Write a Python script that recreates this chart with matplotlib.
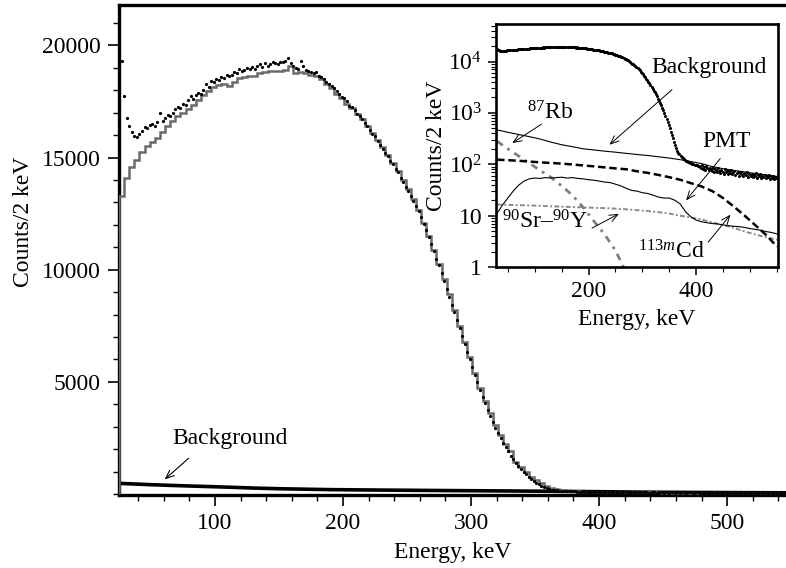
import numpy as np
import matplotlib
matplotlib.use("Agg")
import matplotlib.pyplot as plt
from matplotlib.ticker import MultipleLocator, FixedLocator, FixedFormatter, LogLocator, NullFormatter

plt.rcParams['font.family'] = ['Liberation Serif', 'DejaVu Serif']
plt.rcParams['mathtext.fontset'] = 'custom'
plt.rcParams['mathtext.rm'] = 'Liberation Serif'
plt.rcParams['mathtext.it'] = 'Liberation Serif:italic'
plt.rcParams['mathtext.default'] = 'regular'

FS = 17

# ---------------- data ----------------
# simulated spectrum, 4 keV bins starting at 25 keV
fit_edges = np.arange(25, 550, 4)
fit_counts = [
    13300, 14100, 14600, 14900, 15250, 15500, 15700, 15850, 16150, 16400,
    16650, 16850, 17000, 17150, 17350, 17550, 17800, 17950, 18150, 18250,
    18300, 18200, 18350, 18550, 18600, 18650, 18650, 18750, 18800, 18850,
    18850, 18850, 18900, 19100, 18750, 18800, 18750, 18700, 18650, 18500,
    18300, 18100, 17850, 17650, 17400, 17200, 16950, 16700, 16400, 16100,
    15800, 15450, 15100, 14750, 14400, 14000, 13600, 13150, 12650, 12100,
    11500, 10900, 10250, 9600, 8900, 8200, 7500, 6800, 6100, 5400,
    4750, 4150, 3600, 3100, 2650, 2250, 1900, 1450, 1200, 980,
    780, 620, 480, 370, 280, 215, 175, 150, 130, 118,
    110, 105, 100, 96,
    93, 90, 87, 85, 83, 81, 79, 77, 76, 74,
    73, 72, 71, 70, 69, 68, 67, 66, 65, 64,
    63, 62, 62, 61, 60, 59, 58, 58, 57, 56,
    56, 55, 55, 54, 54, 53, 53,
]

# measured spectrum, 2 keV bin centres
data_energy = np.arange(27, 550, 2)
data_counts = [
    19300, 17750, 16750, 16400, 16150, 15950, 15900, 16050, 16200, 16350,
    16300, 16450, 16500, 16400, 16600, 17000, 16650, 16750, 16900, 16850,
    17000, 17150, 17250, 17200, 17400, 17350, 17550, 17750, 17600, 17800,
    17900, 17850, 18000, 18300, 18150, 18400, 18350, 18500, 18450, 18600,
    18550, 18700, 18650, 18700, 18800, 18750, 18950, 18850, 18900, 19000,
    18950, 19050, 18950, 19100, 19150, 19050, 19200, 19100, 19150, 19250,
    19200, 19150, 19250, 19250, 19300, 19450, 19200, 19100, 19000, 18950,
    19300, 19100, 18900, 18850, 18800, 18750, 18800, 18650, 18600, 18500,
    18350, 18300, 18200, 18100, 17950, 17850, 17700, 17650, 17500, 17300,
    17250, 17100, 16950, 16850, 16700, 16550, 16400, 16250, 16050, 15950,
    15750, 15550, 15400, 15200, 15050, 14850, 14700, 14500, 14350, 14100,
    13900, 13700, 13500, 13300, 13050, 12850, 12600, 12350, 12050, 11750,
    11450, 11150, 10850, 10500, 10200, 9850, 9500, 9150, 8800, 8450,
    8100, 7750, 7400, 7050, 6700, 6350, 6000, 5650, 5300, 4980,
    4650, 4350, 4050, 3750, 3480, 3220, 2960, 2720, 2500, 2290,
    2090, 1900, 1720, 1560, 1400, 1260, 1120, 1000, 880, 770,
    670, 580, 500, 430, 370, 320, 275, 240, 205, 180,
    165, 155, 145, 138, 132, 127, 122, 118, 115, 112,
    110, 107, 105, 103, 101, 98, 96, 95, 93, 92,
    90, 84, 95, 80, 88, 78, 92, 83, 76, 86,
    79, 74, 85, 72, 81, 77, 70, 83, 75, 68,
    78, 72, 66, 80, 71, 75, 65, 73, 69, 77,
    64, 70, 74, 62, 68, 72, 60, 67, 71, 63,
    58, 69, 65, 61, 70, 57, 64, 60, 66, 56,
    63, 59, 67, 55, 61, 58, 64, 54, 60, 57,
    62, 53, 59, 56, 63, 52, 58, 55, 60, 51,
    57, 54,
]

# background model
bg_energy = [25, 50, 70, 90, 110, 130, 150, 170, 190, 210, 230, 250, 270, 290,
             310, 330, 350, 370, 390, 410, 430, 450, 470, 490, 510, 530, 550]
bg_counts = [480, 420, 380, 345, 310, 270, 240, 220, 200, 190, 180, 172, 163, 155,
             148, 140, 132, 123, 113, 103, 90, 82, 76, 71, 66, 62, 58]

# background components
pmt_energy = [30, 50, 70, 90, 110, 130, 150, 170, 190, 210, 230, 250, 270, 290,
              310, 330, 350, 370, 390, 410, 430, 450, 470, 490, 510, 530, 550]
pmt_counts = [123, 120, 117, 113, 109, 106, 103, 99, 95, 91, 87, 83, 80, 73,
              68, 62, 56, 50, 43, 37, 30, 22, 15, 10, 6.5, 4.2, 2.5]

cd_energy = np.arange(30, 551, 10)
cd_counts = [11, 16, 22, 30, 39, 47, 52, 54, 53, 55,
             54, 55, 56, 54, 55, 53, 52, 50, 49, 47,
             45, 44, 41, 38, 34, 31, 30, 28, 27, 25,
             23, 22, 22, 20, 17, 12, 9.5, 8.2, 7.6, 7.3,
             7.0, 6.9, 6.6, 6.4, 6.2, 6.1, 5.9, 5.6, 5.4, 5.2,
             4.9, 4.7, 4.4]

sry_energy = [30, 50, 70, 90, 110, 130, 150, 170, 190, 210, 230, 250, 270, 290,
              310, 330, 350, 370, 390, 410, 430, 450, 470, 490, 510, 530, 550]
sry_counts = [16.5, 16.2, 16.0, 15.8, 15.5, 15.2, 15.0, 14.7, 14.5, 14.2, 14.0, 13.7, 13.3, 12.8,
              12.3, 11.7, 11.0, 10.0, 9.2, 8.4, 7.4, 6.5, 5.8, 4.9, 4.3, 3.8, 3.4]

rb_energy = [30, 50, 70, 90, 110, 130, 150, 170, 190, 210, 230, 250, 265]
rb_counts = [280, 200, 145, 105, 76, 56, 38, 25, 14.5, 7.8, 4.3, 2.1, 1.0]

# ---------------- figure ----------------
fig = plt.figure(figsize=(7.86, 5.68), dpi=100)
ax = fig.add_axes([0.1514, 0.1285, 0.8486, 0.8627])

ax.plot(bg_energy, bg_counts, color='black', lw=2.6, solid_capstyle='butt', zorder=2)
ax.stairs(fit_counts, fit_edges, color='#6a6a6a', lw=1.8, zorder=3)
ax.plot(data_energy, data_counts, linestyle='none', marker='o', ms=2.3,
        mfc='black', mec='black', mew=0, zorder=4)

ax.set_xlim(25, 546)
ax.set_ylim(-40, 21800)
ax.xaxis.set_major_locator(FixedLocator([100, 200, 300, 400, 500]))
ax.xaxis.set_minor_locator(MultipleLocator(20))
ax.yaxis.set_major_locator(FixedLocator([5000, 10000, 15000, 20000]))
ax.yaxis.set_minor_locator(MultipleLocator(1000))
ax.tick_params(which='major', direction='out', length=8, width=1.2, labelsize=FS, pad=5)
ax.tick_params(which='minor', direction='out', length=4, width=1.0)
ax.spines['right'].set_visible(False)
for s in ('left', 'top', 'bottom'):
    ax.spines[s].set_linewidth(2.4)
ax.set_xlabel('Energy, keV', fontsize=FS)
ax.set_ylabel('Counts/2 keV', fontsize=FS)
ax.xaxis.set_label_coords(0.5, -0.096)
ax.yaxis.set_label_coords(-0.128, 0.557)

ax.text(112, 2480, 'Background', fontsize=FS, ha='center', va='center')
ax.annotate('', xy=(59, 570), xytext=(81, 1680),
            arrowprops=dict(arrowstyle='->,head_length=0.6,head_width=0.25', lw=0.8, color='black'))

# ---------------- inset (log scale) ----------------
ins = fig.add_axes([0.6310, 0.5299, 0.3588, 0.4278])
ins.set_yscale('log')
ins.plot(data_energy, data_counts, linestyle='none', marker='o', ms=2.2,
         mfc='black', mec='black', mew=0, zorder=5)
ins.plot(bg_energy, bg_counts, color='black', lw=0.8, zorder=3)
ins.plot(pmt_energy, pmt_counts, color='black', lw=1.8, dashes=(3, 1.5), zorder=3)
ins.plot(cd_energy, cd_counts, color='black', lw=0.8, zorder=3)
ins.plot(sry_energy, sry_counts, color='#8a8a8a', lw=1.4, dashes=(2.5, 1.2, 1, 1.2), zorder=2)
ins.plot(rb_energy, rb_counts, color='#808080', lw=2.0, dashes=(2.5, 2, 1, 2), zorder=2)

ins.set_xlim(28, 552)
ins.set_ylim(1, 53700)
ins.xaxis.set_major_locator(FixedLocator([200, 400]))
ins.xaxis.set_minor_locator(MultipleLocator(50))
ins.yaxis.set_major_locator(FixedLocator([1, 10, 100, 1000, 10000]))
ins.yaxis.set_major_formatter(FixedFormatter(['1', '10', '10$^2$', '10$^3$', '10$^4$']))
ins.yaxis.set_minor_locator(LogLocator(base=10, subs=np.arange(2, 10)))
ins.yaxis.set_minor_formatter(NullFormatter())
ins.tick_params(which='major', direction='out', length=6, width=1.1, labelsize=FS, pad=4)
ins.tick_params(which='minor', direction='out', length=3.5, width=0.8)
for s in ins.spines.values():
    s.set_linewidth(1.9)
ins.set_xlabel('Energy, keV', fontsize=FS, labelpad=5)
ins.set_ylabel('Counts/2 keV', fontsize=FS)
ins.yaxis.set_label_coords(-0.172, 0.5)

arrow = dict(arrowstyle='->,head_length=0.6,head_width=0.25', lw=0.7, color='black')
ins.text(424, 7550, 'Background', fontsize=FS, ha='center', va='center')
ins.annotate('', xy=(235, 221), xytext=(359, 3080), arrowprops=arrow)
ins.text(128, 1000, '$^{87}$Rb', fontsize=FS, ha='center', va='center')
ins.annotate('', xy=(54, 242), xytext=(117, 645), arrowprops=arrow)
ins.text(456, 275, 'PMT', fontsize=FS, ha='center', va='center')
ins.annotate('', xy=(378, 18), xytext=(448, 142), arrowprops=arrow)
ins.text(119, 7.7, '$^{90}$Sr\u2013$^{90}$Y', fontsize=FS, ha='center', va='center')
ins.annotate('', xy=(261, 11.5), xytext=(202, 5.4), arrowprops=arrow)
ins.text(354, 2.0, '$^{113\\mathit{m}}$Cd', fontsize=FS, ha='center', va='center')
ins.annotate('', xy=(467, 11.5), xytext=(419, 2.76), arrowprops=arrow)

fig.savefig('out.png', dpi=100)
